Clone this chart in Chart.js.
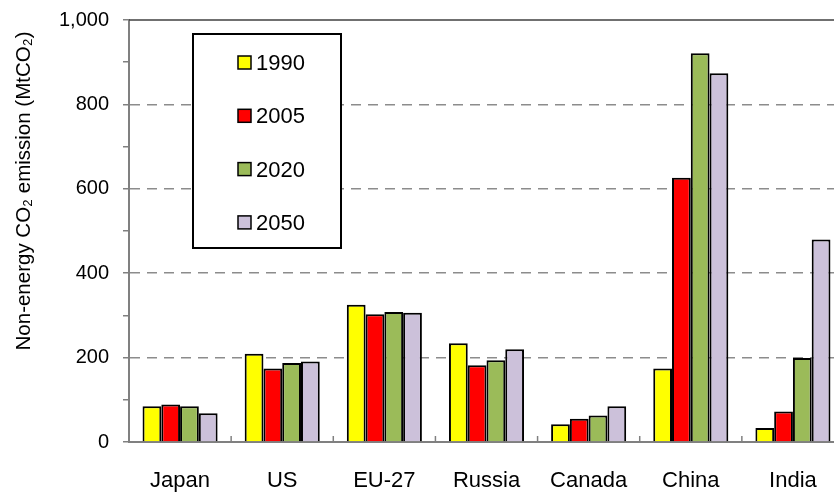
<!DOCTYPE html>
<html>
<head>
<meta charset="utf-8">
<script src="https://cdn.jsdelivr.net/npm/chart.js@4"></script>
<style>
  html, body { margin: 0; padding: 0; background: #fff; overflow: hidden; }
  #wrap { width: 846px; height: 492px; }
</style>
</head>
<body>
<div id="wrap"><canvas id="chart" width="846" height="492"></canvas></div>
<script>
// Data
const regions = ['Japan', 'US', 'EU-27', 'Russia', 'Canada', 'China', 'India'];
const years = ['1990', '2005', '2020', '2050'];
const values1990 = [85, 209, 325, 234, 42, 174, 33];
const values2005 = [89, 174, 303, 182, 55, 626, 72];
const values2020 = [85, 187, 308, 194, 63, 921, 199];
const values2050 = [68, 191, 306, 220, 85, 874, 480];
const yTicks = [0, 200, 400, 600, 800, 1000];

const colors = ['#FFFF00', '#FF0000', '#9BBB59', '#CCC1DA'];
const FONT = '"Liberation Sans", Arial, sans-serif';

// y axis title, drawn by hand so it sits where the original has it
const yTitlePlugin = {
    id: 'yTitle',
    afterDraw(chart) {
        const ctx = chart.ctx;
        ctx.save();
        ctx.translate(24, 191);
        ctx.rotate(-Math.PI / 2);
        ctx.font = '20.5px ' + FONT;
        ctx.fillStyle = '#000';
        ctx.textAlign = 'center';
        ctx.textBaseline = 'middle';
        ctx.fillText('Non-energy CO\u2082 emission (MtCO\u2082)', 0, 0);
        ctx.restore();
    }
};

// short upward ticks between categories + top line
const axisExtras = {
    id: 'axisExtras',
    afterDatasetsDraw(chart) {
        const ctx = chart.ctx;
        const x = chart.scales.x;
        const y = chart.scales.y;
        const area = chart.chartArea;
        ctx.save();
        ctx.strokeStyle = '#808080';
        ctx.lineWidth = 1.5;
        for (let i = 1; i < regions.length; i++) {
            const px = (x.getPixelForValue(i - 1) + x.getPixelForValue(i)) / 2;
            ctx.beginPath();
            ctx.moveTo(px, area.bottom);
            ctx.lineTo(px, area.bottom - 6);
            ctx.stroke();
        }
        ctx.strokeStyle = '#404040';
        ctx.beginPath();
        ctx.moveTo(area.left, y.getPixelForValue(1000));
        ctx.lineTo(area.right, y.getPixelForValue(1000));
        ctx.stroke();
        ctx.restore();
    }
};

// boxed legend inside the plot
const boxLegend = {
    id: 'boxLegend',
    afterDraw(chart) {
        const ctx = chart.ctx;
        ctx.save();
        ctx.strokeStyle = '#000';
        ctx.lineWidth = 2;
        ctx.fillStyle = '#fff';
        ctx.fillRect(193, 34, 148, 214);
        ctx.strokeRect(193, 34, 148, 214);
        ctx.font = '22px ' + FONT;
        ctx.textBaseline = 'middle';
        chart.data.datasets.forEach((ds, i) => {
            const cy = 63 + i * 53.3;
            ctx.fillStyle = ds.backgroundColor;
            ctx.fillRect(238, cy - 7, 13, 13);
            ctx.lineWidth = 1.5;
            ctx.strokeRect(238, cy - 7, 13, 13);
            ctx.fillStyle = '#000';
            ctx.fillText(ds.label, 256, cy + 1);
        });
        ctx.restore();
    }
};

new Chart(document.getElementById('chart'), {
    type: 'bar',
    data: {
        labels: regions,
        datasets: [values1990, values2005, values2020, values2050].map((vals, i) => ({
            label: years[i],
            data: vals,
            backgroundColor: colors[i],
            borderColor: '#000',
            borderWidth: 2,
            borderSkipped: 'bottom',
            categoryPercentage: 0.735,
            barPercentage: 1.0,
        })),
    },
    options: {
        responsive: false,
        animation: false,
        layout: { padding: { top: 20, right: 2, bottom: 0, left: 0 } },
        plugins: {
            legend: { display: false },
            tooltip: { enabled: false },
        },
        scales: {
            x: {
                afterFit: s => { s.height = 50; },
                grid: { display: false, drawTicks: false },
                border: { color: '#808080', width: 2 },
                ticks: {
                    color: '#000',
                    padding: 26,
                    font: { family: FONT, size: 22 },
                },
            },
            y: {
                min: 0,
                max: 1000,
                afterFit: s => {
                    s.width = 129;
                    s.paddingTop = 0;
                    s.paddingBottom = 0;
                },
                afterBuildTicks: s => {
                    const t = [];
                    for (let v = 0; v <= 1000; v += 100) t.push({ value: v });
                    s.ticks = t;
                },
                grid: {
                    color: c => (c.tick && yTicks.includes(c.tick.value) && c.tick.value !== 0 && c.tick.value !== 1000) ? '#8c8c8c' : 'rgba(0,0,0,0)',
                    lineWidth: 1.5,
                    tickColor: '#808080',
                    tickLength: 6,
                    tickWidth: 1.5,
                },
                border: {
                    color: '#808080',
                    width: 2,
                    dash: c => (c.tick ? [10, 7] : []),
                },
                ticks: {
                    color: '#000',
                    padding: 14,
                    autoSkip: false,
                    font: { family: FONT, size: 20 },
                    callback: v => yTicks.includes(v) ? v.toLocaleString('en-US') : '',
                },
            },
        },
    },
    plugins: [yTitlePlugin, axisExtras, boxLegend],
});
</script>
</body>
</html>
